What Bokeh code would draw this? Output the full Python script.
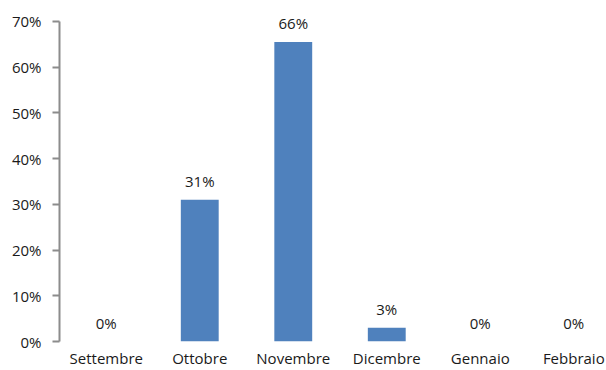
from bokeh.plotting import figure
from bokeh.models import Range1d, FixedTicker, PrintfTickFormatter, ColumnDataSource
from bokeh.core.properties import value
from bokeh.embed import file_html
from bokeh.resources import INLINE

months = ["Settembre", "Ottobre", "Novembre", "Dicembre", "Gennaio", "Febbraio"]
shares = [0, 31, 65.5, 3, 0, 0]
share_labels = ["0%", "31%", "66%", "3%", "0%", "0%"]
y_ticks = [0, 10, 20, 30, 40, 50, 60, 70]

FONT = "Open Sans"
TXT = "#1a1a1a"
AXIS = "#8c8c8c"

xs = list(range(len(months)))
src = ColumnDataSource(dict(x=xs, top=shares, lab=share_labels))

p = figure(width=606, height=370, output_backend="svg", toolbar_location=None,
           x_range=Range1d(-0.5, 5.35), y_range=Range1d(0, 74.58),
           min_border_left=59, min_border_right=0, min_border_top=0, min_border_bottom=28)
p.outline_line_color = None
p.xgrid.visible = False
p.ygrid.visible = False
p.background_fill_color = "white"
p.border_fill_color = "white"

p.vbar(x="x", top="top", width=0.405, bottom=0, source=src,
       fill_color="#4F81BD", line_color=None)

p.text(x="x", y="top", text="lab", source=src, text_align="center", text_baseline="bottom",
       y_offset=-9, text_font=value(FONT), text_font_size="15px", text_color=TXT)

# y axis
ya = p.yaxis[0]
ya.ticker = FixedTicker(ticks=y_ticks)
ya.bounds = (0, 70)
ya.formatter = PrintfTickFormatter(format="%d%%")
ya.axis_line_color = AXIS
ya.axis_line_width = 2
ya.major_tick_line_color = AXIS
ya.major_tick_line_width = 2
ya.major_tick_out = 7
ya.major_tick_in = 0
ya.minor_tick_line_color = None
ya.major_label_standoff = 11
ya.major_label_text_font = FONT
ya.major_label_text_font_size = "15px"
ya.major_label_text_color = TXT

# x axis
xa = p.xaxis[0]
xa.ticker = FixedTicker(ticks=xs)
xa.major_label_overrides = {i: m for i, m in zip(xs, months)}
xa.axis_line_color = None
xa.major_tick_line_color = None
xa.minor_tick_line_color = None
xa.major_tick_out = 0
xa.major_tick_in = 0
xa.major_label_standoff = 6
xa.major_label_text_font = FONT
xa.major_label_text_font_size = "15px"
xa.major_label_text_color = TXT

open("out.html", "w").write(file_html(p, INLINE))
